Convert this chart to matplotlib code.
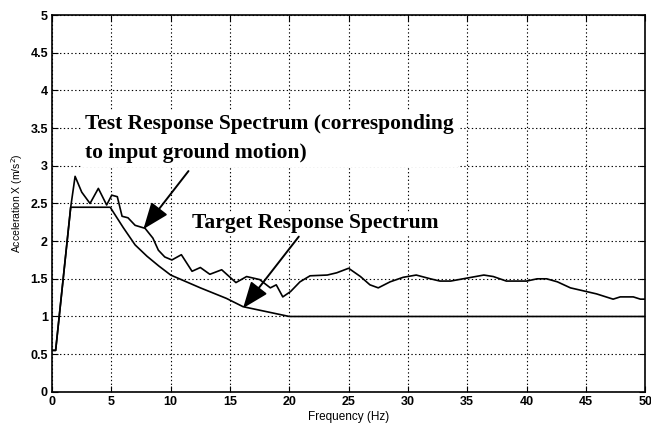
import matplotlib
matplotlib.use("Agg")
import matplotlib.pyplot as plt

# target (required) response spectrum
target_f = [0, 0.3, 1.57, 4.9, 6.0, 7.0, 8.0, 9.0, 10.0, 12.5, 14.7, 16.1, 20.0, 50]
target_a = [0.55, 0.55, 2.45, 2.45, 2.18, 1.95, 1.80, 1.67, 1.55, 1.38, 1.24, 1.13, 1.0, 1.0]

# test response spectrum (from input ground motion)
test_f = [0, 0.3, 1.57, 1.94, 2.5, 3.2, 3.9, 4.6, 5.03, 5.5, 5.9, 6.4, 7.0, 7.84, 8.5,
          8.96, 9.5, 10.1, 10.9, 11.8, 12.5, 13.3, 14.3, 15.5, 16.4, 17.5, 18.4, 18.9,
          19.45, 20.1, 20.9, 21.75, 23.2, 24.0, 25.0, 26.0, 26.8, 27.5, 28.5, 29.6,
          30.7, 31.9, 32.7, 33.6, 35.0, 36.4, 37.2, 38.3, 40.0, 40.9, 41.7, 42.6,
          43.7, 44.8, 45.9, 47.3, 47.9, 49.0, 49.6, 50]
test_a = [0.55, 0.55, 2.45, 2.86, 2.65, 2.50, 2.70, 2.48, 2.61, 2.59, 2.33, 2.31, 2.21,
          2.17, 2.04, 1.88, 1.79, 1.75, 1.82, 1.60, 1.65, 1.56, 1.62, 1.45, 1.53, 1.49,
          1.38, 1.42, 1.26, 1.33, 1.46, 1.54, 1.55, 1.58, 1.64, 1.53, 1.42, 1.38, 1.46,
          1.52, 1.55, 1.50, 1.47, 1.47, 1.51, 1.55, 1.53, 1.47, 1.47, 1.50, 1.50, 1.46,
          1.38, 1.34, 1.30, 1.23, 1.26, 1.26, 1.23, 1.23]

xticks = [0, 5, 10, 15, 20, 25, 30, 35, 40, 45, 50]
yticks = [0, 0.5, 1, 1.5, 2, 2.5, 3, 3.5, 4, 4.5, 5]
ytick_labels = ["0", "0.5", "1", "1.5", "2", "2.5", "3", "3.5", "4", "4.5", "5"]

fig = plt.figure(figsize=(6.51, 4.32), dpi=100)
ax = fig.add_axes([0.080, 0.093, 0.911, 0.872])

ax.plot(test_f, test_a, color="black", lw=1.2, zorder=3)
ax.plot(target_f, target_a, color="black", lw=1.2, zorder=3)

ax.set_xlim(0, 50)
ax.set_ylim(0, 5)
ax.set_xticks(xticks)
ax.set_yticks(yticks)
ax.set_yticklabels(ytick_labels)
ax.grid(True, color="black", linestyle=(0, (1.2, 2.2)), lw=0.8)
ax.tick_params(direction="in", length=4, width=0.8, top=True, right=True,
               labelsize=9, pad=3)
for lab in ax.get_xticklabels() + ax.get_yticklabels():
    lab.set_fontweight("bold")
    lab.set_family("Liberation Sans")
for s in ax.spines.values():
    s.set_linewidth(1.2)

ax.set_xlabel("Frequency (Hz)", fontsize=8.5, family="Liberation Sans", labelpad=2)
ax.set_ylabel("Acceleration X (m/s$^2$)", fontsize=7.5, family="Liberation Sans", labelpad=4)

serif = dict(family="Liberation Serif", fontweight="bold", fontsize=15.5, color="black",
             zorder=4)
ax.text(2.75, 3.36, "Test Response Spectrum (corresponding\nto input ground motion)",
        ha="left", va="center", linespacing=1.56,
        bbox=dict(fc="white", ec="none", pad=3), **serif)
ax.text(11.8, 2.24, "Target Response Spectrum", ha="left", va="center",
        bbox=dict(fc="white", ec="none", pad=1), **serif)

arrow = dict(arrowstyle="-|>,head_length=0.9,head_width=0.35", color="black", lw=1.4,
             mutation_scale=18, shrinkA=0, shrinkB=0)
ax.annotate("", xy=(7.7, 2.16), xytext=(11.5, 2.93), arrowprops=arrow, zorder=5)
ax.annotate("", xy=(16.1, 1.11), xytext=(20.8, 2.06), arrowprops=arrow, zorder=5)

fig.savefig("out.png", dpi=100, facecolor="white")
